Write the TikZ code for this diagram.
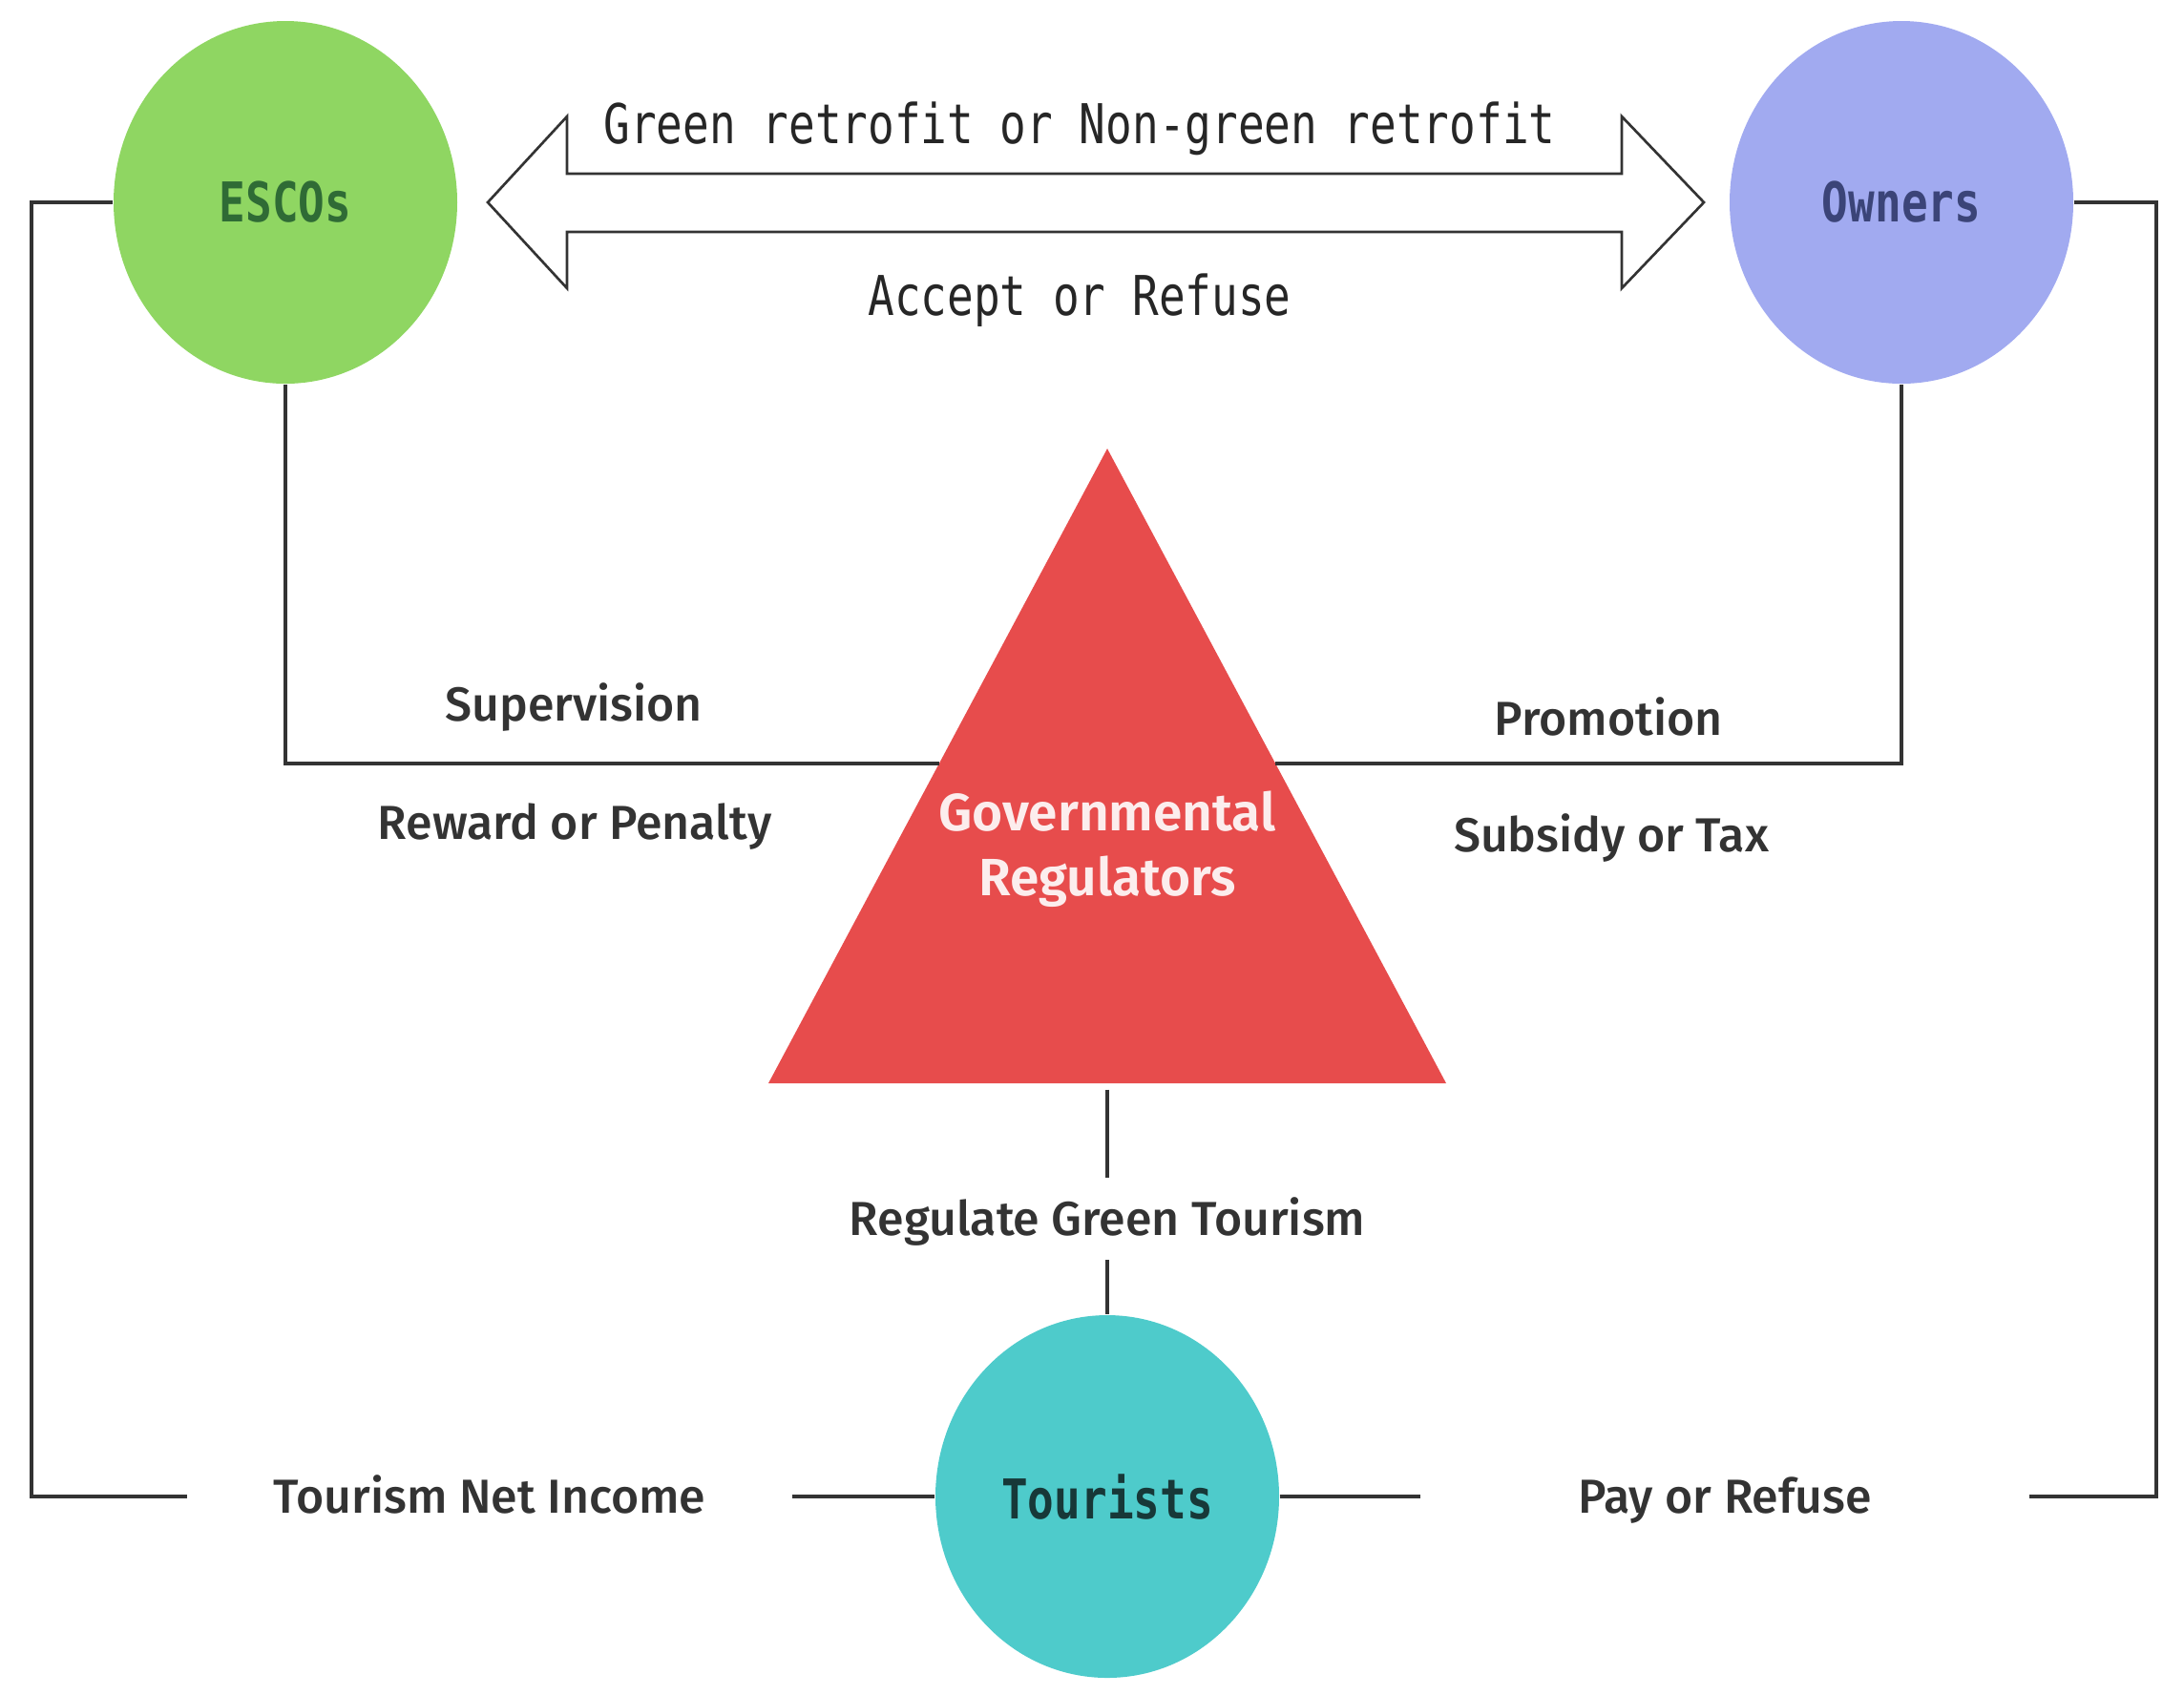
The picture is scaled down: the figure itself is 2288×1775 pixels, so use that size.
\documentclass[tikz,border=0pt]{standalone}
\usepackage{fontspec}
\setmainfont{Fira Sans}
\newfontfamily\monofont{DejaVu Sans Mono}[FakeStretch=0.8]
\IfFontExistsTF{Fira Sans Medium}{\newfontfamily\lblfont{Fira Sans Medium}}{\newfontfamily\lblfont{Fira Sans}}
\IfFontExistsTF{Fira Sans SemiBold}{\newfontfamily\govfont{Fira Sans SemiBold}}{\newfontfamily\govfont{Fira Sans Bold}}
\usetikzlibrary{shapes.geometric,calc}
\definecolor{escfill}{HTML}{8FD662}
\definecolor{ownfill}{HTML}{A1AAF0}
\definecolor{tourfill}{HTML}{4ECBCB}
\definecolor{govred}{HTML}{E74C4C}
\definecolor{govtext}{HTML}{FCEDED}
\definecolor{linegray}{HTML}{333333}
\definecolor{esctext}{HTML}{2F6B35}
\definecolor{owntext}{HTML}{3B4478}
\definecolor{tourtext}{HTML}{173838}
\definecolor{lbltext}{HTML}{333333}
\begin{document}
\begin{tikzpicture}[x=0.3pt,y=-0.3pt,
  actor/.style={ellipse, minimum width=108pt, minimum height=114pt, inner sep=0pt,
    font=\monofont\bfseries\fontsize{17.25}{20}\selectfont},
  conn/.style={draw=linegray, line width=1pt},
  lbl/.style={font=\lblfont\fontsize{15}{18}\selectfont, text=lbltext, inner sep=0pt,
    text height=10.3pt, text depth=0pt},
  mono/.style={font=\monofont\fontsize{17.25}{20}\selectfont, text=black!85, inner sep=0pt}]
\useasboundingbox (0,0) rectangle (2288,1775);
% actors
\node[actor, fill=escfill, text=esctext] (esc) at (299,212) {ESCOs};
\node[actor, fill=ownfill, text=owntext] (own) at (1992,212) {Owners};
\node[actor, fill=tourfill, text=tourtext] (tour) at (1160,1568) {Tourists};
% regulator triangle
\coordinate (apex) at (1160,470);
\coordinate (bl) at (805,1135);
\coordinate (br) at (1515,1135);
\fill[govred] (apex) -- (bl) -- (br) -- cycle;
\node[font=\govfont\fontsize{16.5}{20.4}\selectfont, text=govtext, align=center, inner sep=0pt] (gov) at (1160,890) {Governmental\\Regulators};
% double arrow
\draw[linegray, line width=0.8pt, fill=white, line join=miter]
  (511,212) -- (594,122) -- (594,182) -- (1699,182) -- (1699,122) -- (1785,212)
  -- (1699,302) -- (1699,243) -- (594,243) -- (594,302) -- cycle;
\node[mono] (grt) at (1131,135) {Green retrofit or Non-green retrofit};
\node[mono] (aor) at (1131,315) {Accept or Refuse};
% labels
\node[lbl] (sup) at (601,738) {Supervision};
\node[lbl] (rop) at (602,862) {Reward or Penalty};
\node[lbl] (pro) at (1685,753) {Promotion};
\node[lbl] (sot) at (1688,875) {Subsidy or Tax};
\node[lbl, inner xsep=27pt] (tni) at (513,1568) {Tourism Net Income};
\node[lbl, inner xsep=49.5pt] (por) at (1807,1568) {Pay or Refuse};
\node[lbl, inner ysep=7.5pt] (rgt) at (1160,1277) {Regulate Green Tourism};
% connectors
\draw[conn] (esc.west) -| (33,1568) -- (tni.west);
\draw[conn] (tni.east) -- (tour.west);
\draw[conn] (tour.east) -- (por.west);
\draw[conn] (por.east) -| (2259,212) -- (own.east);
\draw[conn] (esc.south) |- ($(apex)!0.4962!(bl)$);
\draw[conn] (own.south) |- ($(apex)!0.4962!(br)$);
\draw[conn, shorten <=2pt] (rgt.north |- bl) -- (rgt.north);
\draw[conn] (rgt.south) -- (tour.north);
\end{tikzpicture}
\end{document}
